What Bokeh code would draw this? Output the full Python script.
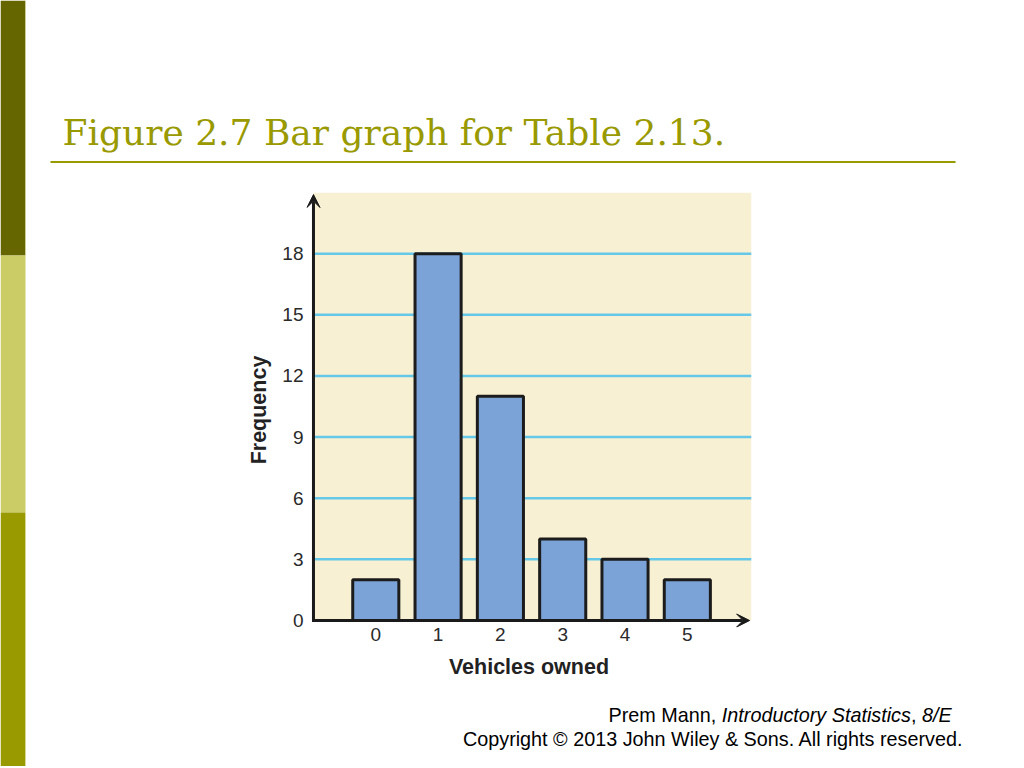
from bokeh.plotting import figure
from bokeh.models import Range1d, FixedTicker, Arrow, VeeHead
from bokeh.layouts import row, column
from bokeh.core.properties import value
from bokeh.embed import file_html
from bokeh.resources import INLINE

# ---- data ----
vehicles = [0, 1, 2, 3, 4, 5]
frequency = [2, 18, 11, 4, 3, 2]
y_ticks = [0, 3, 6, 9, 12, 15, 18]
x_ticks = [0, 1, 2, 3, 4, 5]
title_text = "Figure 2.7 Bar graph for Table 2.13."
x_label = "Vehicles owned"
y_label = "Frequency"
footer_parts = ["Prem Mann, ", "Introductory Statistics", ", ", "8/E"]
footer_styles = ["normal", "italic", "normal", "italic"]
footer_line2 = "Copyright \u00a9 2013 John Wiley & Sons. All rights reserved."

# ---- styles ----
OLIVE = "#999900"
DARK_OLIVE = "#666600"
LIGHT_OLIVE = "#cccc66"
CREAM = "#f8f0d3"
GRID = "#66c8e8"
BAR_FILL = "#7ba3d7"
BAR_LINE = "#1c1c1c"
AXIS = "#1a1a1a"
SANS = "Liberation Sans"

X_MIN, X_MAX = -1.0, 6.03      # cream plotting area in data units
Y_MIN, Y_MAX = 0.0, 21.0


def bare(fig):
    fig.xgrid.visible = False
    fig.ygrid.visible = False
    return fig


# ---- left stripe ----
stripe = figure(width=26, height=766, x_range=Range1d(0, 26), y_range=Range1d(766, 0),
                output_backend="svg", toolbar_location=None, min_border=0,
                x_axis_location=None, y_axis_location=None, outline_line_color=None)
bare(stripe)
stripe.quad(left=[0, 0, 0, 25], right=[25, 25, 25, 26],
            top=[0, 255, 512, 0], bottom=[255, 512, 766, 766],
            fill_color=[DARK_OLIVE, LIGHT_OLIVE, OLIVE, "#e8e8b0"], line_color=None)

# ---- header with title ----
hdr = figure(width=998, height=192, x_range=Range1d(26, 1024), y_range=Range1d(192, 0),
             output_backend="svg", toolbar_location=None, min_border=0,
             x_axis_location=None, y_axis_location=None, outline_line_color=None)
bare(hdr)
hdr.text(x=[62], y=[132], text=[title_text], text_font=value("DejaVu Serif"),
         text_font_size="36px", text_color=OLIVE, text_baseline="alphabetic", text_align="left")
hdr.segment(x0=[50], y0=[161.5], x1=[955], y1=[161.5], line_color=OLIVE, line_width=2)

# ---- chart ----
ch = figure(width=998, height=508, x_range=Range1d(-1.112, X_MAX), y_range=Range1d(-0.343, Y_MAX),
            output_backend="svg", toolbar_location=None,
            min_border_left=280, min_border_right=273, min_border_top=0, min_border_bottom=73,
            background_fill_color="white", border_fill_color="white", outline_line_color=None)
ch.xgrid.visible = False
ch.ygrid.visible = False

# cream plotting area
ch.quad(left=[X_MIN], right=[X_MAX], bottom=[Y_MIN], top=[Y_MAX], fill_color=CREAM, line_color=None)
# horizontal grid lines at the tick values
ch.segment(x0=[X_MIN] * len(y_ticks[1:]), x1=[X_MAX] * len(y_ticks[1:]),
           y0=y_ticks[1:], y1=y_ticks[1:], line_color=GRID, line_width=2.5)
# bars
ch.vbar(x=vehicles, top=frequency, bottom=0, width=0.74,
        fill_color=BAR_FILL, line_color=BAR_LINE, line_width=3)

ch.yaxis.ticker = FixedTicker(ticks=y_ticks)
ch.xaxis.ticker = FixedTicker(ticks=x_ticks)
for ax in (ch.xaxis[0], ch.yaxis[0]):
    ax.axis_line_color = None
    ax.major_tick_line_color = None
    ax.minor_tick_line_color = None
    ax.major_tick_in = 0
    ax.major_tick_out = 0
    ax.major_label_text_font = SANS
    ax.major_label_text_font_size = "19px"
    ax.major_label_text_color = "#2a2a2a"
    ax.axis_label_text_font = SANS
    ax.axis_label_text_font_size = "21.5px"
    ax.axis_label_text_font_style = "bold"
    ax.axis_label_text_color = "#222222"
ch.xaxis.axis_label = x_label
ch.yaxis.axis_label = y_label
ch.xaxis.major_label_standoff = 0
ch.xaxis.axis_label_standoff = 11
ch.yaxis.major_label_standoff = 3
ch.yaxis.axis_label_standoff = 8

# axis lines with arrow heads
ch.add_layout(Arrow(end=VeeHead(size=13, fill_color=AXIS, line_color=AXIS),
                    x_start=X_MIN, y_start=-0.07, x_end=X_MIN, y_end=20.9,
                    line_color=AXIS, line_width=3))
ch.add_layout(Arrow(end=VeeHead(size=13, fill_color=AXIS, line_color=AXIS),
                    x_start=X_MIN - 0.02, y_start=Y_MIN, x_end=6.0, y_end=Y_MIN,
                    line_color=AXIS, line_width=3))

# ---- footer ----
ftr = figure(width=998, height=66, x_range=Range1d(26, 1024), y_range=Range1d(766, 700),
             output_backend="svg", toolbar_location=None, min_border=0,
             x_axis_location=None, y_axis_location=None, outline_line_color=None)
bare(ftr)
part_x = [608, 721.3, 910.6, 921.6]
for px, txt, sty in zip(part_x, footer_parts, footer_styles):
    ftr.text(x=[px], y=[714], text=[txt], text_font=value(SANS), text_font_size="19.8px",
             text_font_style=sty, text_color="#000000", text_baseline="alphabetic", text_align="left")
ftr.text(x=[963], y=[738], text=[footer_line2], text_font=value(SANS), text_font_size="19.8px",
         text_color="#000000", text_baseline="alphabetic", text_align="right")

layout = row(stripe, column(row(hdr), row(ch), row(ftr)))

open("out.html", "w").write(file_html(layout, INLINE))
